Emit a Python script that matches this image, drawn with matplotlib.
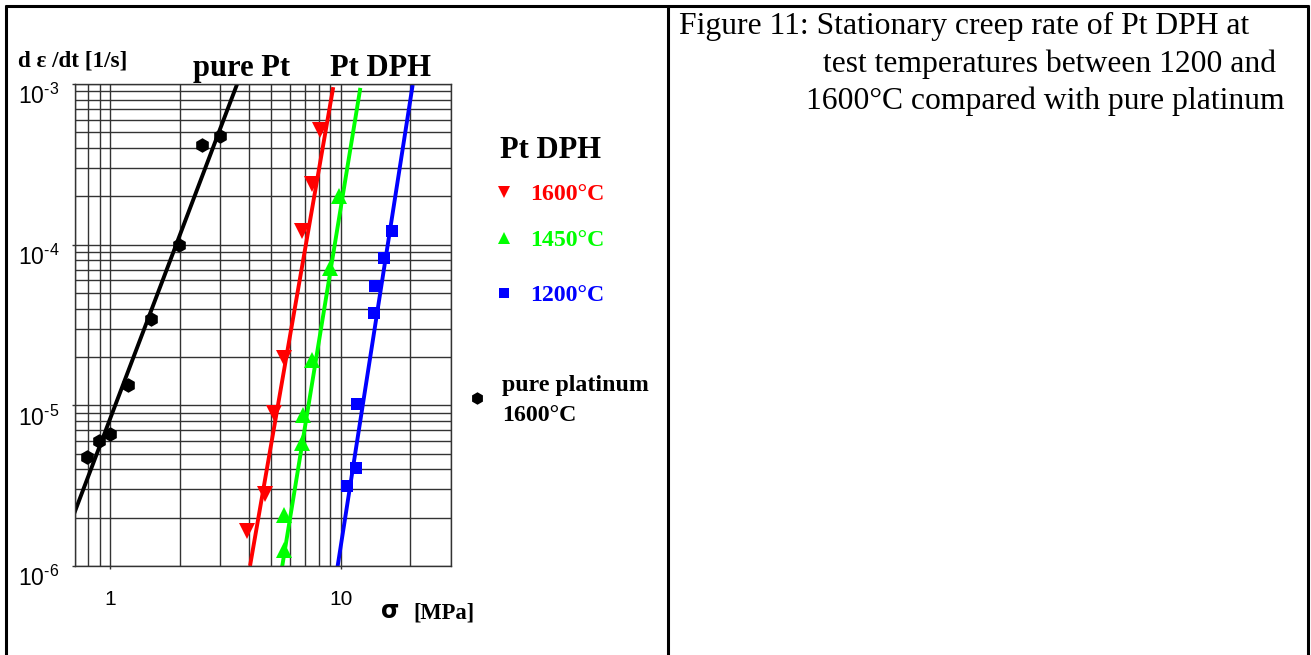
import matplotlib
matplotlib.use('Agg')
import matplotlib.pyplot as plt
from matplotlib.lines import Line2D
from matplotlib.ticker import LogLocator, NullFormatter

# creep data (stress in MPa, rate in 1/s)
pure_x = [0.79, 0.89, 1.0, 1.19, 1.5, 1.98, 2.49, 2.99]
pure_y = [4.8e-6, 6.0e-6, 6.6e-6, 1.34e-5, 3.45e-5, 9.9e-5, 4.2e-4, 4.75e-4]
pure_fit_x = [0.7, 3.55]
pure_fit_y = [2.15e-6, 1.0e-3]

dph1600_x = [8.10, 7.47, 6.76, 5.64, 5.15, 4.70, 3.92]
dph1600_y = [5.17e-4, 2.39e-4, 1.22e-4, 1.97e-5, 8.97e-6, 2.81e-6, 1.65e-6]
dph1600_fit_x = [4.05, 9.23]
dph1600_fit_y = [1.03e-6, 9.3e-4]

dph1450_x = [9.80, 8.95, 7.47, 6.82, 6.76, 5.64, 5.64]
dph1450_y = [2.01e-4, 7.16e-5, 1.92e-5, 8.71e-6, 5.83e-6, 2.08e-6, 1.26e-6]
dph1450_fit_x = [5.58, 12.1]
dph1450_fit_y = [1.02e-6, 9.2e-4]

dph1200_x = [16.7, 15.3, 14.1, 13.9, 11.7, 11.6, 10.6]
dph1200_y = [1.22e-4, 8.27e-5, 5.53e-5, 3.76e-5, 1.02e-5, 4.07e-6, 3.15e-6]
dph1200_fit_x = [9.70, 20.4]
dph1200_fit_y = [1.02e-6, 9.6e-4]

x_ticks = [1, 10]
x_labels = ['1', '10']
y_ticks = [1e-6, 1e-5, 1e-4, 1e-3]
y_labels = [r'$10^{\text{-6}}$', r'$10^{\text{-5}}$', r'$10^{\text{-4}}$',
            r'$10^{\text{-3}}$']

caption = ['Figure 11: Stationary creep rate of Pt DPH at',
           'test temperatures between 1200 and',
           '1600\u00b0C compared with pure platinum']

plt.rcParams['mathtext.fontset'] = 'custom'
plt.rcParams['mathtext.rm'] = 'Liberation Sans'
plt.rcParams['mathtext.it'] = 'Liberation Sans'

W, H = 1311, 655
fig = plt.figure(figsize=(W / 100, H / 100), dpi=100)


def fx(px):
    return px / W


def fy(py):
    return 1 - py / H


ax = fig.add_axes([fx(74.5), fy(566), fx(451) - fx(74.5), fy(84) - fy(566)])
ax.set_xscale('log')
ax.set_yscale('log')
ax.set_xlim(0.7, 30)
ax.set_ylim(1e-6, 1e-3)

ax.xaxis.set_minor_locator(LogLocator(subs=range(2, 10)))
ax.yaxis.set_minor_locator(LogLocator(subs=range(2, 10)))
ax.xaxis.set_minor_formatter(NullFormatter())
ax.yaxis.set_minor_formatter(NullFormatter())
ax.set_xticks(x_ticks, x_labels)
ax.set_yticks(y_ticks, y_labels)
ax.grid(which='both', color='#333333', lw=1.0)
ax.set_axisbelow(True)
for s in ax.spines.values():
    s.set_color('#333333')
    s.set_linewidth(1.0)

tick_font = 'Liberation Sans'
ax.tick_params(which='major', direction='out', length=2, width=1, color='#333333')
ax.tick_params(which='minor', length=0)
ax.tick_params(axis='x', pad=15)
ax.tick_params(axis='y', pad=9)
for lab in ax.get_xticklabels():
    lab.set_fontsize(15)
    lab.set_family(tick_font)
for lab in ax.get_yticklabels():
    lab.set_fontsize(16.5)
    lab.set_family(tick_font)
    lab.set_va('top')

# fitted lines and measured points
ax.plot(pure_fit_x, pure_fit_y, color='black', lw=2.8)
ax.plot(pure_x, pure_y, 'h', color='black', ms=10.5, mew=0)
ax.plot(dph1600_fit_x, dph1600_fit_y, color='#ff0000', lw=2.8)
ax.plot(dph1600_x, dph1600_y, 'v', color='#ff0000', ms=11, mew=0)
ax.plot(dph1450_fit_x, dph1450_fit_y, color='#00ff00', lw=2.8)
ax.plot(dph1450_x, dph1450_y, '^', color='#00ff00', ms=11, mew=0)
ax.plot(dph1200_fit_x, dph1200_fit_y, color='#0000ff', lw=2.8)
ax.plot(dph1200_x, dph1200_y, 's', color='#0000ff', ms=9, mew=0)

serif = 'Liberation Serif'
fig.text(fx(18), fy(67), 'd \u03b5 /dt [1/s]', fontsize=16.7, family=serif,
         weight='bold', va='baseline')
fig.text(fx(193), fy(76), 'pure Pt', fontsize=22, family=serif, weight='bold',
         va='baseline')
fig.text(fx(330), fy(76), 'Pt DPH', fontsize=22, family=serif, weight='bold',
         va='baseline')
fig.text(fx(390), fy(618), '\u03c3', fontsize=17, family='DejaVu Sans',
         weight='bold', ha='center', va='baseline')
fig.text(fx(413), fy(618), '[MPa]', fontsize=16.3, family=serif, weight='bold',
         va='baseline')

# legend drawn by hand beside the plot
fig.text(fx(500), fy(158), 'Pt DPH', fontsize=22, family=serif, weight='bold',
         va='baseline')
legend_rows = [('v', '#ff0000', 192, '1600\u00b0C', 8),
               ('^', '#00ff00', 238, '1450\u00b0C', 8),
               ('s', '#0000ff', 293, '1200\u00b0C', 7)]
for mk, col, py, txt, ms in legend_rows:
    fig.add_artist(Line2D([fx(504)], [fy(py)], marker=mk, color=col, ms=ms,
                          mew=0, ls='none'))
    fig.text(fx(530), fy(py + 8), txt, fontsize=17.2, family=serif,
             weight='bold', color=col, va='baseline')
fig.add_artist(Line2D([fx(477)], [fy(398)], marker='h', color='black', ms=9,
                      mew=0, ls='none'))
fig.text(fx(502), fy(391), 'pure platinum', fontsize=17.2, family=serif,
         weight='bold', va='baseline')
fig.text(fx(502), fy(421), '1600\u00b0C', fontsize=17.2, family=serif,
         weight='bold', va='baseline')

# caption in the right cell
cap_pos = [(679, 34), (823, 72), (806, 109)]
for (px, py), line in zip(cap_pos, caption):
    fig.text(fx(px), fy(py), line, fontsize=22.8, family=serif, va='baseline')

# table frame
frame_kw = dict(color='black', lw=2.2, solid_capstyle='butt')
fig.add_artist(Line2D([fx(5), fx(1309)], [fy(6), fy(6)], **frame_kw))
for px in [6, 668, 1308]:
    fig.add_artist(Line2D([fx(px), fx(px)], [fy(5), 0], **frame_kw))

fig.savefig('out.png', dpi=100)
